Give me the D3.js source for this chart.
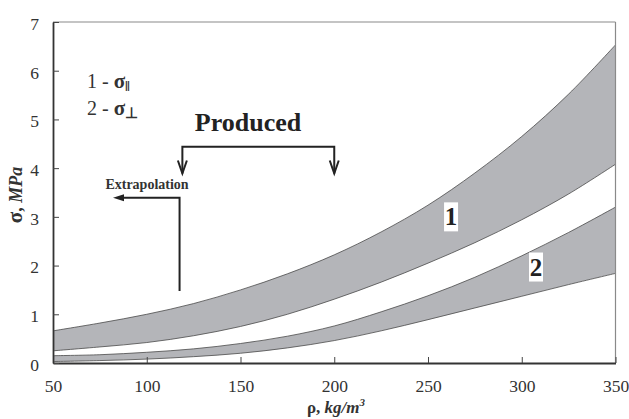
<!DOCTYPE html>
<html>
<head>
<meta charset="utf-8">
<script src="https://cdn.jsdelivr.net/npm/d3@7"></script>
<style>
  html, body { margin: 0; padding: 0; background: #fff; }
  svg { display: block; }
  text { font-family: "Liberation Serif", "Times New Roman", serif; }
</style>
</head>
<body>
<svg id="chart" width="629" height="419"></svg>
<script>
// Density, kg/m^3
const rho = [50, 75, 100, 125, 150, 175, 200, 225, 250, 275, 300, 325, 350];
// Band 1: strength parallel to the rise direction (upper / lower bound), MPa
const sigmaParUpper = [0.66, 0.82, 1.00, 1.22, 1.50, 1.83, 2.22, 2.69, 3.24, 3.90, 4.65, 5.52, 6.53];
const sigmaParLower = [0.25, 0.33, 0.42, 0.56, 0.75, 1.00, 1.31, 1.66, 2.05, 2.47, 2.94, 3.47, 4.08];
// Band 2: strength perpendicular to the rise direction (upper / lower bound), MPa
const sigmaPerpUpper = [0.15, 0.17, 0.22, 0.29, 0.40, 0.55, 0.76, 1.05, 1.38, 1.76, 2.20, 2.68, 3.20];
const sigmaPerpLower = [0.03, 0.05, 0.08, 0.13, 0.20, 0.31, 0.46, 0.66, 0.89, 1.13, 1.37, 1.61, 1.84];

const xTicks = [50, 100, 150, 200, 250, 300, 350];
const yTicks = [0, 1, 2, 3, 4, 5, 6, 7];

const svg = d3.select("#chart");
const plotLeft = 53, plotRight = 615.5, plotTop = 22, plotBottom = 363;

const x = d3.scaleLinear().domain([50, 350]).range([plotLeft, plotRight]);
const y = d3.scaleLinear().domain([0, 7]).range([plotBottom, plotTop]);

// clip bands to the plotting frame
svg.append("defs").append("clipPath").attr("id", "plotClip")
  .append("rect").attr("x", plotLeft).attr("y", plotTop)
  .attr("width", plotRight - plotLeft).attr("height", plotBottom - plotTop);

const plot = svg.append("g").attr("clip-path", "url(#plotClip)");

function band(upper, lower) {
  const rows = rho.map((r, i) => ({ r, hi: upper[i], lo: lower[i] }));
  const area = d3.area().curve(d3.curveCatmullRom)
    .x(d => x(d.r)).y0(d => y(d.lo)).y1(d => y(d.hi));
  const lineHi = d3.line().curve(d3.curveCatmullRom).x(d => x(d.r)).y(d => y(d.hi));
  const lineLo = d3.line().curve(d3.curveCatmullRom).x(d => x(d.r)).y(d => y(d.lo));
  plot.append("path").datum(rows).attr("d", area).attr("fill", "#b4b5b9");
  plot.append("path").datum(rows).attr("d", lineHi)
    .attr("fill", "none").attr("stroke", "#4a4a4a").attr("stroke-width", 0.8);
  plot.append("path").datum(rows).attr("d", lineLo)
    .attr("fill", "none").attr("stroke", "#4a4a4a").attr("stroke-width", 0.8);
}
band(sigmaParUpper, sigmaParLower);
band(sigmaPerpUpper, sigmaPerpLower);

// frame: light top/right edges
svg.append("line").attr("x1", plotLeft).attr("x2", plotRight).attr("y1", plotTop).attr("y2", plotTop)
  .attr("stroke", "#8a8a8a").attr("stroke-width", 1.2);
svg.append("line").attr("x1", plotRight).attr("x2", plotRight).attr("y1", plotTop).attr("y2", plotBottom)
  .attr("stroke", "#8a8a8a").attr("stroke-width", 1.2);

// axes with inward ticks
const xAxis = svg.append("g").attr("transform", `translate(0,${plotBottom})`)
  .call(d3.axisBottom(x).tickValues(xTicks).tickFormat(d3.format("d"))
    .tickSizeInner(-6).tickSizeOuter(0).tickPadding(17));
const yAxis = svg.append("g").attr("transform", `translate(${plotLeft},0)`)
  .call(d3.axisLeft(y).tickValues(yTicks).tickFormat(d3.format("d"))
    .tickSizeInner(-6).tickSizeOuter(0).tickPadding(14));

[xAxis, yAxis].forEach(g => {
  g.select(".domain").attr("stroke", "#333").attr("stroke-width", 1.8);
  g.selectAll(".tick line").attr("stroke", "#444").attr("stroke-width", 1);
  g.selectAll(".tick text").style("font-family", "'Liberation Serif', serif")
    .attr("font-size", 17.5).attr("fill", "#333");
});
yAxis.selectAll(".tick text").attr("dy", "0.42em");

// axis titles
const xt = svg.append("text").attr("x", 336).attr("y", 413).attr("text-anchor", "middle")
  .attr("font-size", 17).attr("font-weight", "bold").attr("fill", "#333");
xt.append("tspan").text("ρ, ");
xt.append("tspan").attr("font-style", "italic").text("kg/m");
xt.append("tspan").attr("font-style", "italic").attr("font-size", 11).attr("dy", -7).text("3");

const yt = svg.append("text").attr("transform", "translate(22,195) rotate(-90)")
  .attr("text-anchor", "middle").attr("font-size", 18).attr("font-weight", "bold").attr("fill", "#333");
yt.append("tspan").attr("font-size", 21).text("σ");
yt.append("tspan").text(", ");
yt.append("tspan").attr("font-style", "italic").text("MPa");

// legend
const leg = [["1 - ", "‖"], ["2 - ", "⊥"]];
leg.forEach((d, i) => {
  const t = svg.append("text").attr("x", 87).attr("y", 88 + i * 27)
    .attr("font-size", 20).attr("fill", "#333");
  t.append("tspan").text(d[0]);
  t.append("tspan").attr("font-weight", "bold").attr("font-size", 21).text("σ");
  t.append("tspan").attr("font-size", 15).attr("dy", 3).attr("font-weight", "bold").text(d[1]);
});

// "Produced" bracket with open arrowheads
svg.append("text").attr("x", 248).attr("y", 131).attr("text-anchor", "middle")
  .attr("font-size", 26).attr("font-weight", "bold").attr("fill", "#222").text("Produced");

const bx1 = x(119), bx2 = x(200), by = y(4.44), btip = y(3.89);
svg.append("path")
  .attr("d", `M${bx1},${btip} V${by} H${bx2} V${btip}`)
  .attr("fill", "none").attr("stroke", "#222").attr("stroke-width", 2);
[bx1, bx2].forEach(bx => {
  svg.append("path")
    .attr("d", `M${bx - 4.5},${btip - 13} L${bx},${btip} L${bx + 4.5},${btip - 13}`)
    .attr("fill", "none").attr("stroke", "#222").attr("stroke-width", 2);
});

// "Extrapolation" arrow pointing toward low densities
svg.append("text").attr("x", 147).attr("y", 189).attr("text-anchor", "middle")
  .attr("font-size", 14).attr("font-weight", "bold").attr("fill", "#333").text("Extrapolation");
const ex = x(117.5), ey = y(3.39), ebot = y(1.48), etip = x(82);
svg.append("path").attr("d", `M${ex},${ebot} V${ey} H${etip + 8}`)
  .attr("fill", "none").attr("stroke", "#222").attr("stroke-width", 2);
svg.append("path").attr("d", `M${etip},${ey} L${etip + 11},${ey - 3.5} L${etip + 11},${ey + 3.5} Z`)
  .attr("fill", "#222");

// band labels in white boxes
[["1", 262.3, 3.0], ["2", 307.6, 1.97]].forEach(([lab, rx, sy]) => {
  const cx = x(rx), cy = y(sy);
  svg.append("rect").attr("x", cx - 7).attr("y", cy - 14.5).attr("width", 14).attr("height", 29)
    .attr("fill", "#fff");
  svg.append("text").attr("x", cx).attr("y", cy + 8.5).attr("text-anchor", "middle")
    .attr("font-size", 25).attr("font-weight", "bold").attr("fill", "#222").text(lab);
});
</script>
</body>
</html>
